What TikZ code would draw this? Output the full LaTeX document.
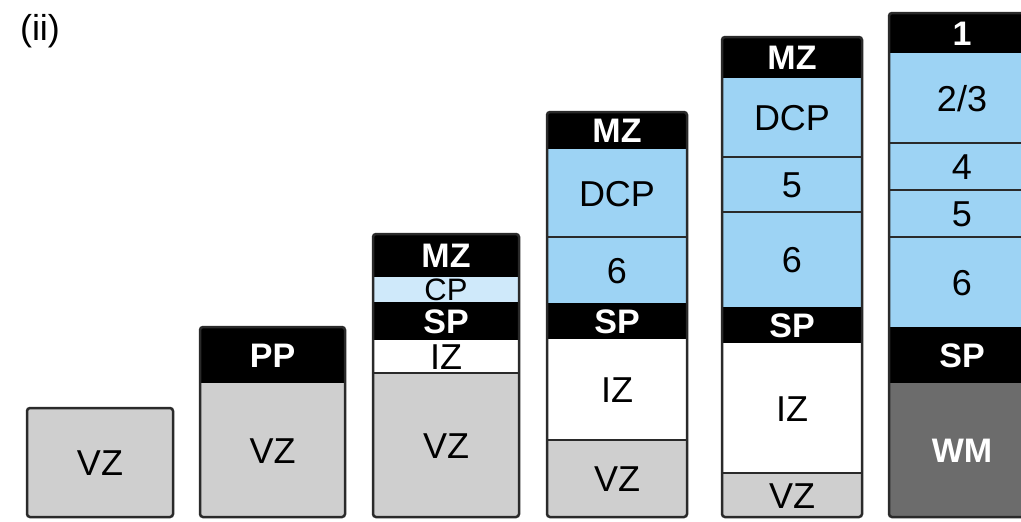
\documentclass[tikz,border=0pt]{standalone}
\usepackage{fontspec}
\setmainfont{Liberation Sans}
\definecolor{vzgray}{HTML}{CFCFCF}
\definecolor{wmgray}{HTML}{6C6C6C}
\definecolor{bandblue}{HTML}{9DD3F4}
\definecolor{cpblue}{HTML}{CFE9FA}
\definecolor{framec}{HTML}{2A2A2A}
\tikzset{
  band/.style={rectangle, inner sep=0pt, outer sep=0pt, text depth=0pt},
  reg/.style={text=black, text height=26pt, font=\fontsize{36}{36}\selectfont},
  bold/.style={text=white, text height=24.5pt, font=\bfseries\fontsize{34}{34}\selectfont},
  blk/.style={bold, fill=black},
  vz/.style={reg, fill=vzgray},
  iz/.style={reg, fill=white},
  blu/.style={reg, fill=bandblue},
  cp/.style={reg, fill=cpblue, text height=22pt, font=\fontsize{31}{31}\selectfont},
  wm/.style={bold, fill=wmgray},
  frame/.style={draw=framec, line width=2.5pt, rounded corners=3pt},
  sep/.style={draw=framec, line width=2pt},
  title/.style={font=\fontsize{36}{36}\selectfont, text=black, inner sep=0pt}
}
\newcommand\mkband[7]{\node[band,#6,minimum width={#3*1pt},minimum height={(#5-#4)*1pt}] (#1) at ({#2+#3/2},{(#4+#5)/2}) {#7};}
\begin{document}
\begin{tikzpicture}[x=1pt,y=-1pt]
\clip (0,0) rectangle (1021,522);
\fill[white] (0,0) rectangle (1021,522);
\node[title] (lab) at (40,31) {(ii)};
% column 1
\mkband{a1}{27}{146}{408}{517}{vz}{VZ}
% column 2
\mkband{b1}{200}{145}{327}{383}{blk}{PP}
\mkband{b2}{200}{145}{383}{517}{vz}{VZ}
% column 3
\mkband{c1}{373}{146}{234}{277}{blk}{MZ}
\mkband{c2}{373}{146}{277}{302}{cp}{CP}
\mkband{c3}{373}{146}{302}{340}{blk}{SP}
\mkband{c4}{373}{146}{340}{373}{iz}{IZ}
\mkband{c5}{373}{146}{373}{517}{vz}{VZ}
% column 4
\mkband{d1}{547}{140}{112}{149}{blk}{MZ}
\mkband{d2}{547}{140}{149}{237}{blu}{DCP}
\mkband{d3}{547}{140}{237}{303}{blu}{6}
\mkband{d4}{547}{140}{303}{339}{blk}{SP}
\mkband{d5}{547}{140}{339}{440}{iz}{IZ}
\mkband{d6}{547}{140}{440}{517}{vz}{VZ}
% column 5
\mkband{e1}{722}{140}{37}{78}{blk}{MZ}
\mkband{e2}{722}{140}{78}{157}{blu}{DCP}
\mkband{e3}{722}{140}{157}{212}{blu}{5}
\mkband{e4}{722}{140}{212}{307}{blu}{6}
\mkband{e5}{722}{140}{307}{343}{blk}{SP}
\mkband{e6}{722}{140}{343}{473}{iz}{IZ}
\mkband{e7}{722}{140}{473}{517}{vz}{VZ}
% column 6
\mkband{f1}{889}{146}{13}{53}{blk}{1}
\mkband{f2}{889}{146}{53}{143}{blu}{2/3}
\mkband{f3}{889}{146}{143}{190}{blu}{4}
\mkband{f4}{889}{146}{190}{237}{blu}{5}
\mkband{f5}{889}{146}{237}{327}{blu}{6}
\mkband{f6}{889}{146}{327}{383}{blk}{SP}
\mkband{f7}{889}{146}{383}{517}{wm}{WM}
% separators
\foreach \n in {c4,d2,d5,e2,e3,e6,f2,f3,f4}
  \draw[sep] (\n.south west) -- (\n.south east);
% frames
\draw[frame] (a1.north west) rectangle (a1.south east);
\draw[frame] (b1.north west) rectangle (b2.south east);
\draw[frame] (c1.north west) rectangle (c5.south east);
\draw[frame] (d1.north west) rectangle (d6.south east);
\draw[frame] (e1.north west) rectangle (e7.south east);
\draw[frame] (f1.north west) rectangle (f7.south east);
\end{tikzpicture}
\end{document}
